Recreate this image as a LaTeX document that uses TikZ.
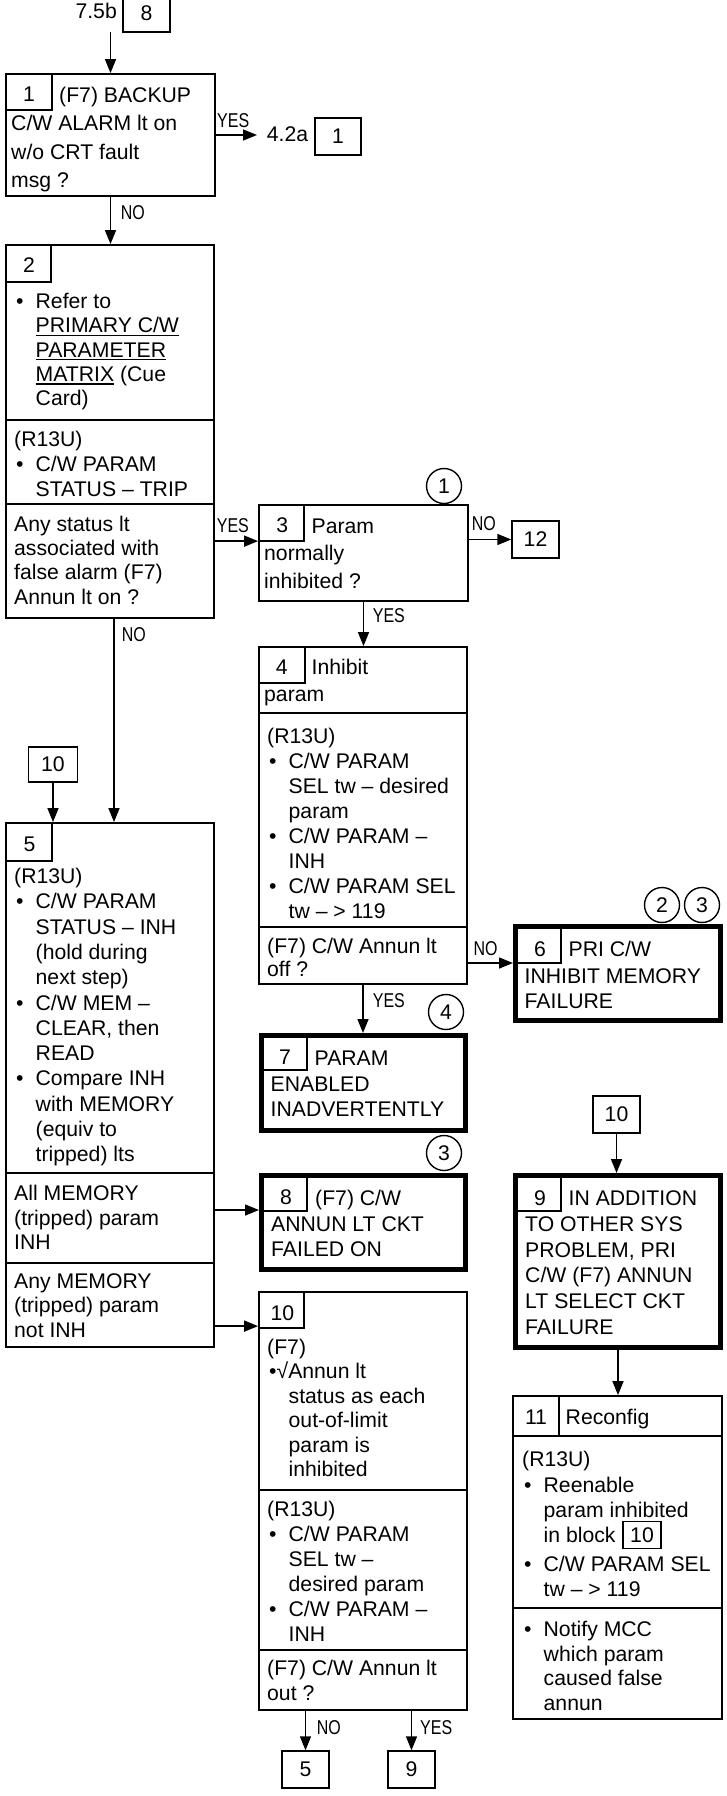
\documentclass[tikz,border=0pt]{standalone}
\usepackage{fontspec}
\setmainfont{Liberation Sans}
\usepackage{graphicx}
\usetikzlibrary{arrows.meta}
\newcommand\mainsize{\fontsize{21.2}{25}\selectfont}
\newcommand\lblsize{\fontsize{20}{24}\selectfont}
\newcommand\blk[2]{\vtop{\baselineskip=#1pt\lineskiplimit=-100pt\lineskip=0pt\relax #2}}
\newcommand\TL[1]{\hbox{#1}}
\newcommand\BL[1]{\hbox{\makebox[21.5pt][l]{\hspace{2pt}\textbullet}#1}}
\newcommand\IL[1]{\hbox{\hspace*{21.5pt}#1}}
\newcommand\ul[1]{\setbox0\hbox{#1}\rlap{\rule[-3.2pt]{\wd0}{1.3pt}}\box0\relax}
\newcommand\yn[1]{\scalebox{0.8}[1]{#1}}
\begin{document}
\begin{tikzpicture}[x=1pt,y=-1pt,
  box/.style={draw, line width=1.8pt, inner sep=0pt, rectangle},
  tbox/.style={draw, line width=5pt, inner sep=0pt, rectangle},
  rbox/.style={draw, line width=1.4pt, inner sep=0pt, minimum width=47pt, minimum height=37pt, font=\mainsize},
  num/.style={inner sep=0pt, font=\mainsize},
  txt/.style={inner sep=0pt, anchor=base west, font=\mainsize},
  lbl/.style={inner sep=0pt, anchor=base west, font=\lblsize},
  circ/.style={circle, draw, line width=1.4pt, minimum size=35pt, inner sep=0pt, font=\mainsize},
  arr/.style={line width=1.5pt, -{Triangle[length=14pt,width=11pt]}},
  div/.style={line width=1.6pt}]
\useasboundingbox (0,0) rectangle (727,1796);

% ---------- boxes ----------
\node[box, minimum width=209pt, minimum height=122pt] (b1) at (110.5,135) {};
\node[box, minimum width=208pt, minimum height=373pt] (b2) at (110,431.5) {};
\node[box, minimum width=209pt, minimum height=96pt] (b3) at (363.5,553) {};
\node[box, minimum width=208pt, minimum height=337pt] (b4) at (363,815.5) {};
\node[box, minimum width=208pt, minimum height=524pt] (b5) at (110,1085) {};
\node[tbox, minimum width=205pt, minimum height=94pt] (b6) at (618,973.5) {};
\node[tbox, minimum width=204pt, minimum height=95pt] (b7) at (363.5,1083) {};
\node[tbox, minimum width=204pt, minimum height=94pt] (b8) at (363.5,1222.5) {};
\node[tbox, minimum width=205pt, minimum height=172pt] (b9) at (618,1261.5) {};
\node[box, minimum width=208pt, minimum height=418pt] (b10) at (363,1501) {};
\node[box, minimum width=209pt, minimum height=323pt] (b11) at (617.5,1557.5) {};

% reference boxes
\node[rbox] (r8) at (146.5,13.5) {8};
\node[rbox, minimum width=46pt] (r1) at (338,136.5) {1};
\node[rbox] (r12) at (535.5,539.5) {12};
\node[rbox, minimum width=49pt, minimum height=35pt] (r10a) at (53,764.5) {10};
\node[rbox] (r10b) at (616.5,1114.5) {10};
\node[rbox] (r5) at (305.5,1769.5) {5};
\node[rbox] (r9) at (411.5,1769.5) {9};

% circles
\node[circ] (c1) at (444,486) {1};
\node[circ] (c2) at (662,905) {2};
\node[circ] (c3) at (702,905) {3};
\node[circ] (c4) at (446,1012) {4};
\node[circ] (c5) at (444,1153) {3};

% ---------- dividers and number cells ----------
\draw[div] (6,110) -| (52,74);
\draw[div] (6,282) -| (51,245);
\draw[div] (6,420) -- (214,420);
\draw[div] (6,504) -- (214,504);
\draw[div] (259,541) -| (304,505);
\draw[div] (259,683) -| (305,647);
\draw[div] (259,713) -- (467,713);
\draw[div] (259,927) -- (467,927);
\draw[div] (6,861) -| (52,823);
\draw[div] (6,1173) -- (214,1173);
\draw[div] (6,1263) -- (214,1263);
\draw[div] (515.5,963) -| (561,926.5);
\draw[div] (261.5,1070) -| (307,1035.5);
\draw[div] (261.5,1211) -| (307,1175.5);
\draw[div] (515.5,1211) -| (561,1175.5);
\draw[div] (259,1328) -| (304,1292);
\draw[div] (259,1490) -- (467,1490);
\draw[div] (259,1650) -- (467,1650);
\draw[div] (513,1436) -- (722,1436);
\draw[div] (559,1396) -- (559,1436);
\draw[div] (513,1608) -- (722,1608);

% ---------- texts ----------
\node[txt, anchor=base east] (t75b) at (117,19) {7.5b};
\node[txt, anchor=base east] (t42a) at (308.3,141.7) {4.2a};

\node[num] (n1) at (29,94.5) {1};
\node[txt] (t1a) at (59,102.7) {(F7) BACKUP};
\node[txt] (t1b) at (11,130.7) {\blk{28.3}{\TL{C/W ALARM lt on}\TL{w/o CRT fault}\TL{msg ?}}};

\node[num] (n2) at (29,265) {2};
\node[txt] (t2a) at (14,308.3) {\blk{24.4}{\BL{Refer to}\IL{\ul{PRIMARY C/W}}\IL{\ul{PARAMETER}}\IL{\ul{MATRIX} (Cue}\IL{Card)}}};
\node[txt] (t2b) at (14,446.7) {\blk{24.7}{\TL{(R13U)}\BL{C/W PARAM}\IL{STATUS – TRIP}}};
\node[txt] (t2c) at (14,531) {\blk{24.4}{\TL{Any status lt}\TL{associated with}\TL{false alarm (F7)}\TL{Annun lt on ?}}};

\node[num] (n3) at (282.3,525.5) {3};
\node[txt] (t3a) at (311.5,533.3) {Param};
\node[txt] (t3b) at (264,560.5) {\blk{27.5}{\TL{normally}\TL{inhibited ?}}};

\node[num] (n4) at (281.7,667) {4};
\node[txt] (t4a) at (311.5,674.5) {Inhibit};
\node[txt] (t4b) at (264,701.7) {param};
\node[txt] (t4c) at (267,743.3) {\blk{25}{\TL{(R13U)}\BL{C/W PARAM}\IL{SEL tw – desired}\IL{param}\BL{C/W PARAM –}\IL{INH}\BL{C/W PARAM SEL}\IL{tw – > 119}}};
\node[txt] (t4d) at (267,953.3) {\blk{23.5}{\TL{(F7) C/W Annun lt}\TL{off ?}}};

\node[num] (n5) at (29.5,844.5) {5};
\node[txt] (t5a) at (14,883.5) {\blk{25.3}{\TL{(R13U)}\BL{C/W PARAM}\IL{STATUS – INH}\IL{(hold during}\IL{next step)}\BL{C/W MEM –}\IL{CLEAR, then}\IL{READ}\BL{Compare INH}\IL{with MEMORY}\IL{(equiv to}\IL{tripped) lts}}};
\node[txt] (t5b) at (14,1200.7) {\blk{24.3}{\TL{All MEMORY}\TL{(tripped) param}\TL{INH}}};
\node[txt] (t5c) at (14,1288.3) {\blk{24.5}{\TL{Any MEMORY}\TL{(tripped) param}\TL{not INH}}};

\node[num] (n6) at (540,949.5) {6};
\node[txt] (t6a) at (568.5,956.7) {PRI C/W};
\node[txt] (t6b) at (524.5,983) {\blk{25}{\TL{INHIBIT MEMORY}\TL{FAILURE}}};

\node[num] (n7) at (285,1056.7) {7};
\node[txt] (t7a) at (314.5,1065) {PARAM};
\node[txt] (t7b) at (270.5,1091) {\blk{25.7}{\TL{ENABLED}\TL{INADVERTENTLY}}};

\node[num] (n8) at (286,1197.3) {8};
\node[txt] (t8a) at (315,1205.7) {(F7) C/W};
\node[txt] (t8b) at (271,1231.7) {\blk{25}{\TL{ANNUN LT CKT}\TL{FAILED ON}}};

\node[num] (n9) at (540,1198.3) {9};
\node[txt] (t9a) at (568.5,1205.7) {IN ADDITION};
\node[txt] (t9b) at (525,1231.7) {\blk{25.6}{\TL{TO OTHER SYS}\TL{PROBLEM, PRI}\TL{C/W (F7) ANNUN}\TL{LT SELECT CKT}\TL{FAILURE}}};

\node[num] (n10) at (282.3,1312.7) {10};
\node[txt] (t10a) at (267,1354.3) {\blk{24.5}{\TL{(F7)}\TL{\hspace{2pt}\textbullet{}√Annun lt}\IL{status as each}\IL{out-of-limit}\IL{param is}\IL{inhibited}}};
\node[txt] (t10b) at (267,1516.7) {\blk{25}{\TL{(R13U)}\BL{C/W PARAM}\IL{SEL tw –}\IL{desired param}\BL{C/W PARAM –}\IL{INH}}};
\node[txt] (t10c) at (267,1675.7) {\blk{24.3}{\TL{(F7) C/W Annun lt}\TL{out ?}}};

\node[num] (n11) at (536,1416.7) {11};
\node[txt] (t11a) at (565.5,1424.3) {Reconfig};
\node[txt] (t11b) at (522,1466.7) {\blk{25.3}{\TL{(R13U)}\BL{Reenable}\IL{param inhibited}\IL{in block}}};
\node[draw, line width=1.5pt, inner sep=0pt, minimum width=38pt, minimum height=27pt, font=\mainsize] (r10c) at (642,1535) {10};
\node[txt] (t11c) at (522,1571) {\blk{25}{\BL{C/W PARAM SEL}\IL{tw – > 119}}};
\node[txt] (t11d) at (522,1636.7) {\blk{24.5}{\BL{Notify MCC}\IL{which param}\IL{caused false}\IL{annun}}};

% ---------- connectors ----------
\coordinate (in1) at (110.5,32);
\draw[arr] (in1) -- (b1.north);
\coordinate (y1) at (257,135);
\draw[arr] (b1.east) -- (y1);
\node[lbl] (l1) at (217,127.3) {\yn{YES}};
\draw[arr] (b1.south) -- (b1.south |- b2.north);
\node[lbl] (l2) at (120.7,219.3) {\yn{NO}};

\coordinate (b3in) at ([yshift=-37pt]b3.north west);
\draw[arr] (b2.east |- b3in) -- (b3in);
\node[lbl] (l3) at (216.7,532.7) {\yn{YES}};
\coordinate (n2s) at ([xshift=4pt]b2.south);
\draw[arr] (n2s) -- (n2s |- b5.north);
\node[lbl] (l4) at (121.7,641) {\yn{NO}};

\draw[arr] (b3.east |- r12.west) -- (r12.west);
\node[lbl] (l5) at (471.7,530.7) {\yn{NO}};
\draw[arr] (b3.south) -- (b3.south |- b4.north);
\node[lbl] (l6) at (372.7,622.7) {\yn{YES}};

\coordinate (b6in) at ([yshift=-39pt]b6.north west);
\draw[arr] (b4.east |- b6in) -- (b6in);
\node[lbl] (l7) at (473.3,955) {\yn{NO}};
\draw[arr] (b4.south) -- (b4.south |- b7.north);
\node[lbl] (l8) at (372.7,1007.7) {\yn{YES}};

\draw[arr] (r10a.south) -- (r10a.south |- b5.north);
\coordinate (b8in) at ([yshift=-37pt]b8.north west);
\draw[arr] (b5.east |- b8in) -- (b8in);
\coordinate (b10in) at ([yshift=-35pt]b10.north west);
\draw[arr] (b5.east |- b10in) -- (b10in);

\draw[arr] (r10b.south) -- (r10b.south |- b9.north);
\draw[arr] (b9.south) -- (b9.south |- b11.north);

\draw[arr] (b10.south -| r5.north) -- (r5.north);
\draw[arr] (b10.south -| r9.north) -- (r9.north);
\node[lbl] (l9) at (316.7,1734.3) {\yn{NO}};
\node[lbl] (l10) at (420,1734.3) {\yn{YES}};
\end{tikzpicture}
\end{document}
